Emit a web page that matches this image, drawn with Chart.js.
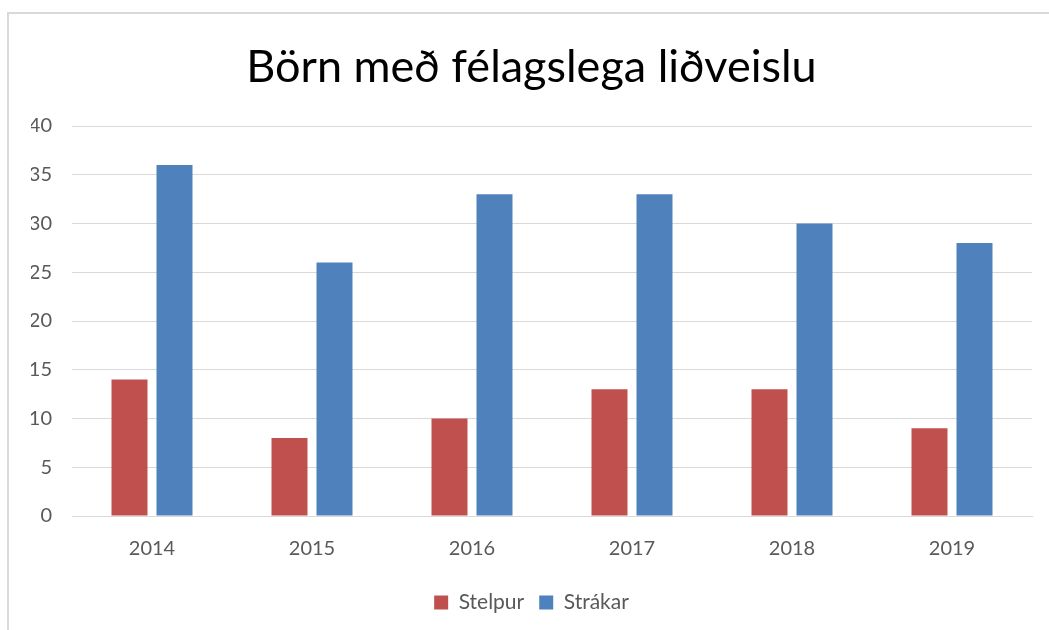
<!DOCTYPE html>
<html>
<head>
<meta charset="utf-8">
<script src="https://cdn.jsdelivr.net/npm/chart.js@4"></script>
<style>
  html, body { margin: 0; padding: 0; background: #fff; }
  #wrap { position: relative; width: 1049px; height: 630px; }
  #frame { position: absolute; left: 7px; top: 12px; right: 0; bottom: 0; border-left: 2px solid #d9d9d9; border-top: 2px solid #d9d9d9; pointer-events: none; }
  canvas { position: absolute; left: 0; top: 0; }
</style>
</head>
<body>
<div id="wrap">
  <canvas id="c" width="1049" height="630"></canvas>
  <div id="frame"></div>
</div>
<script>
const categories = ['2014', '2015', '2016', '2017', '2018', '2019'];
const stelpur = [14, 8, 10, 13, 13, 9];
const strakar = [36, 26, 33, 33, 30, 28];
const seriesNames = ['Stelpur', 'Strákar'];
const titleText = 'Börn með félagslega liðveislu';
const FONT = 'Lato, "Open Sans", sans-serif';

new Chart(document.getElementById('c'), {
  type: 'bar',
  data: {
    labels: categories,
    datasets: [
      { label: seriesNames[0], data: stelpur, backgroundColor: '#C0504D', borderWidth: 0 },
      { label: seriesNames[1], data: strakar, backgroundColor: '#4F81BD', borderWidth: 0 }
    ]
  },
  options: {
    responsive: false,
    animation: false,
    layout: { padding: { left: 31, right: 17, top: 0, bottom: 7 } },
    datasets: { bar: { categoryPercentage: 0.5625, barPercentage: 0.8 } },
    plugins: {
      title: {
        display: true, text: titleText, color: '#000',
        font: { family: FONT, size: 45, weight: 'normal' },
        padding: { top: 40, bottom: 32 }
      },
      legend: {
        position: 'bottom',
        labels: { color: '#595959', font: { family: FONT, size: 21 }, boxWidth: 14, boxHeight: 14, padding: 15 }
      },
      tooltip: { enabled: false }
    },
    scales: {
      x: {
        grid: { display: false, drawTicks: false },
        border: { display: true, color: '#d9d9d9', width: 1 },
        ticks: { color: '#595959', font: { family: FONT, size: 20 }, padding: 21 },
        afterFit: s => { s.height = 61; }
      },
      y: {
        min: 0, max: 40,
        grid: { color: '#d9d9d9', lineWidth: 1, drawTicks: false },
        border: { display: false },
        ticks: { stepSize: 5, color: '#595959', font: { family: FONT, size: 20 }, padding: 20 },
        afterFit: s => { s.width = 41; }
      }
    }
  }
});
</script>
</body>
</html>
